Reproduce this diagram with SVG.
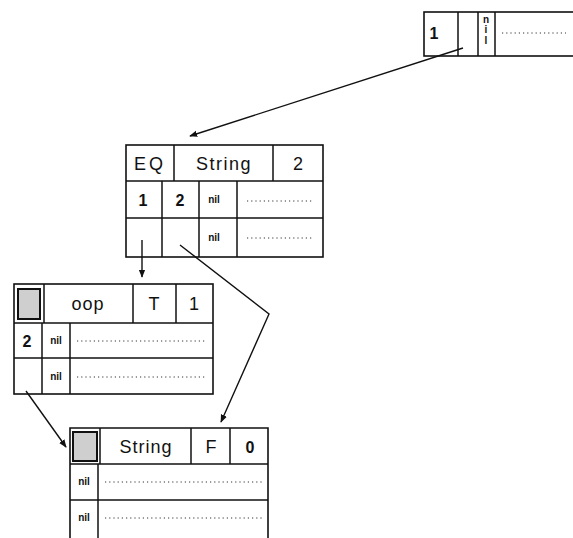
<svg xmlns="http://www.w3.org/2000/svg" width="573" height="538" viewBox="0 0 573 538">
<defs>
<marker id="ah" viewBox="0 0 10 10" refX="9" refY="5" markerWidth="8" markerHeight="8" markerUnits="userSpaceOnUse" orient="auto"><path d="M0,1 L10,5 L0,9 z" fill="#111"/></marker>
<style>
.box{fill:#fff;stroke:#111;stroke-width:1.6}
.ln{stroke:#111;stroke-width:1.5;fill:none}
.dot{stroke:#333;stroke-width:1;stroke-dasharray:1.2 3;fill:none}
.t{font-family:"Liberation Sans",Arial,sans-serif;font-size:18px;fill:#111;text-anchor:middle}
.n{font-family:"Liberation Sans",Arial,sans-serif;font-size:16px;font-weight:bold;fill:#111;text-anchor:middle}
.nil{font-family:"Liberation Sans",Arial,sans-serif;font-size:10px;font-weight:bold;fill:#111;text-anchor:middle}
.sh{fill:#cfcfcf;stroke:#111;stroke-width:2}
.con{stroke:#111;stroke-width:1.4;fill:none;marker-end:url(#ah)}
</style>
</defs>
<rect width="573" height="538" fill="#fff"/>
<g id="node-top">
<rect class="box" x="424" y="12" width="160" height="44"/>
<line class="ln" x1="458" y1="12" x2="458" y2="56"/>
<line class="ln" x1="478" y1="12" x2="478" y2="56"/>
<line class="ln" x1="495" y1="12" x2="495" y2="56"/>
<text class="n" x="434" y="39">1</text>
<text class="nil" x="486"><tspan x="486" y="23">n</tspan><tspan x="486" y="33">i</tspan><tspan x="486" y="44">l</tspan></text>
<line class="dot" x1="502" y1="33" x2="566" y2="33"/>
</g>
<g id="node-eq">
<rect class="box" x="126" y="145" width="197" height="112"/>
<line class="ln" x1="126" y1="181" x2="323" y2="181"/>
<line class="ln" x1="126" y1="218" x2="323" y2="218"/>
<line class="ln" x1="174" y1="145" x2="174" y2="181"/>
<line class="ln" x1="273" y1="145" x2="273" y2="181"/>
<line class="ln" x1="162" y1="181" x2="162" y2="257"/>
<line class="ln" x1="199" y1="181" x2="199" y2="257"/>
<line class="ln" x1="237" y1="181" x2="237" y2="257"/>
<text class="t" x="150" y="170" style="letter-spacing:3px">EQ</text>
<text class="t" x="224" y="170" style="letter-spacing:1.5px">String</text>
<text class="t" x="298" y="170">2</text>
<text class="n" x="143" y="206">1</text>
<text class="n" x="180" y="206">2</text>
<text class="nil" x="214" y="203">nil</text>
<text class="nil" x="214" y="241">nil</text>
<line class="dot" x1="247" y1="201" x2="314" y2="201"/>
<line class="dot" x1="247" y1="238" x2="314" y2="238"/>
</g>
<g id="node-oop">
<rect class="box" x="14" y="284" width="199" height="110"/>
<line class="ln" x1="14" y1="323" x2="213" y2="323"/>
<line class="ln" x1="14" y1="358" x2="213" y2="358"/>
<line class="ln" x1="44" y1="284" x2="44" y2="323"/>
<line class="ln" x1="133" y1="284" x2="133" y2="323"/>
<line class="ln" x1="176" y1="284" x2="176" y2="323"/>
<line class="ln" x1="42" y1="323" x2="42" y2="394"/>
<line class="ln" x1="70" y1="323" x2="70" y2="394"/>
<rect class="sh" x="18" y="289" width="22" height="30"/>
<text class="t" x="88" y="310" style="letter-spacing:1px">oop</text>
<text class="t" x="154" y="310">T</text>
<text class="t" x="194" y="310">1</text>
<text class="n" x="27" y="347">2</text>
<text class="nil" x="56" y="344">nil</text>
<text class="nil" x="56" y="380">nil</text>
<line class="dot" x1="77" y1="341" x2="207" y2="341"/>
<line class="dot" x1="77" y1="377" x2="207" y2="377"/>
</g>
<g id="node-string">
<path class="box" d="M70,545 V428 H268 V545"/>
<line class="ln" x1="70" y1="464" x2="268" y2="464"/>
<line class="ln" x1="70" y1="500" x2="268" y2="500"/>
<line class="ln" x1="100" y1="428" x2="100" y2="464"/>
<line class="ln" x1="191" y1="428" x2="191" y2="464"/>
<line class="ln" x1="230" y1="428" x2="230" y2="464"/>
<line class="ln" x1="98" y1="464" x2="98" y2="540"/>
<rect class="sh" x="73" y="432" width="24" height="29"/>
<text class="t" x="146" y="453" style="letter-spacing:1px">String</text>
<text class="t" x="211" y="453">F</text>
<text class="n" x="250" y="453">0</text>
<text class="nil" x="84" y="485">nil</text>
<text class="nil" x="84" y="521">nil</text>
<line class="dot" x1="105" y1="482" x2="262" y2="482"/>
<line class="dot" x1="105" y1="518" x2="262" y2="518"/>
</g>
<g id="connectors">
<path class="con" d="M463,48 L190,136"/>
<path class="con" d="M142,240 L142,277"/>
<path class="con" d="M180,245 L269,314 L221,422"/>
<path class="con" d="M26,391 L66,447"/>
</g>
</svg>
